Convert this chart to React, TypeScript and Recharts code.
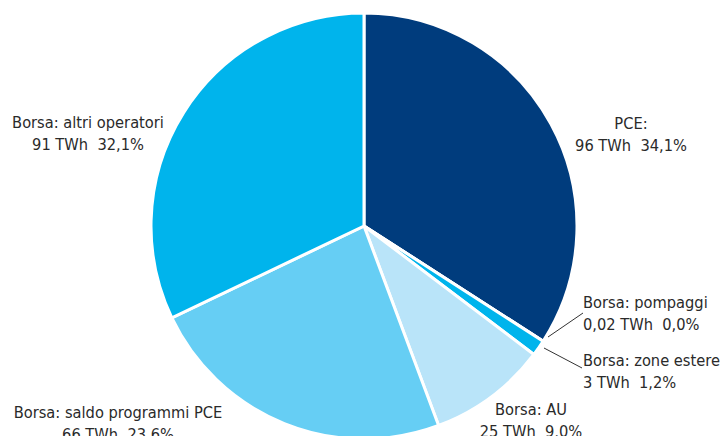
import { PieChart, Pie, Cell } from "recharts";

// share of total, %
const names = [
  "PCE:",
  "Borsa: pompaggi",
  "Borsa: zone estere",
  "Borsa: AU",
  "Borsa: saldo programmi PCE",
  "Borsa: altri operatori",
];
const twh = ["96", "0,02", "3", "25", "66", "91"];
const shares = [34.1, 0.0, 1.2, 9.0, 23.6, 32.1];
const sliceValues = [34.1, 0.007, 1.2, 9.0, 23.6, 32.1];
const colors = ["#003c7d", "#00b4ec", "#00b4ec", "#b9e4f9", "#66cef4", "#00b4ec"];

const data = names.map((name, i) => ({ name, value: sliceValues[i] }));

// label placement relative to pie centre
const LABELS = [
  { dx: 267, dy: -97, anchor: "middle" },
  { dx: 219, dy: 82, anchor: "start", line: [184, 111, 219, 87] },
  { dx: 219, dy: 140, anchor: "start", line: [180, 122, 218, 142] },
  { dx: 167, dy: 189, anchor: "middle" },
  { dx: -246, dy: 192, anchor: "middle" },
  { dx: -276, dy: -98, anchor: "middle" },
];

const FONT = "'DejaVu Sans Condensed', 'Liberation Sans Narrow', Roboto, sans-serif";

function SliceLabel(props: any) {
  const { cx, cy, index } = props;
  const p = LABELS[index];
  const x = cx + p.dx;
  const y = cy + p.dy;
  const pct = shares[index].toFixed(1).replace(".", ",");
  return (
    <g>
      {p.line && (
        <line x1={cx + p.line[0]} y1={cy + p.line[1]} x2={cx + p.line[2]} y2={cy + p.line[3]}
          stroke="#333" strokeWidth={1} />
      )}
      <text x={x} y={y} textAnchor={p.anchor} fill="#2a2a2a" fontSize={16.3} fontFamily={FONT}
        style={{ whiteSpace: "pre" }}>
        <tspan x={x} dy={0}>{names[index]}</tspan>
        <tspan x={x} dy={22}>{`${twh[index]} TWh  ${pct}%`}</tspan>
      </text>
    </g>
  );
}

export default function App() {
  return (
    <div style={{ position: "absolute", left: 0, top: 0, width: 720, height: 436, background: "#fff" }}>
      <PieChart width={720} height={436} margin={{ top: 0, right: 0, bottom: 0, left: 0 }}>
        <Pie data={data} dataKey="value" cx={364} cy={226} outerRadius={213}
          startAngle={90} endAngle={-270} stroke="#fff" strokeWidth={3}
          label={SliceLabel} labelLine={false} isAnimationActive={false}>
          {data.map((_, i) => (
            <Cell key={i} fill={colors[i]} />
          ))}
        </Pie>
      </PieChart>
    </div>
  );
}
